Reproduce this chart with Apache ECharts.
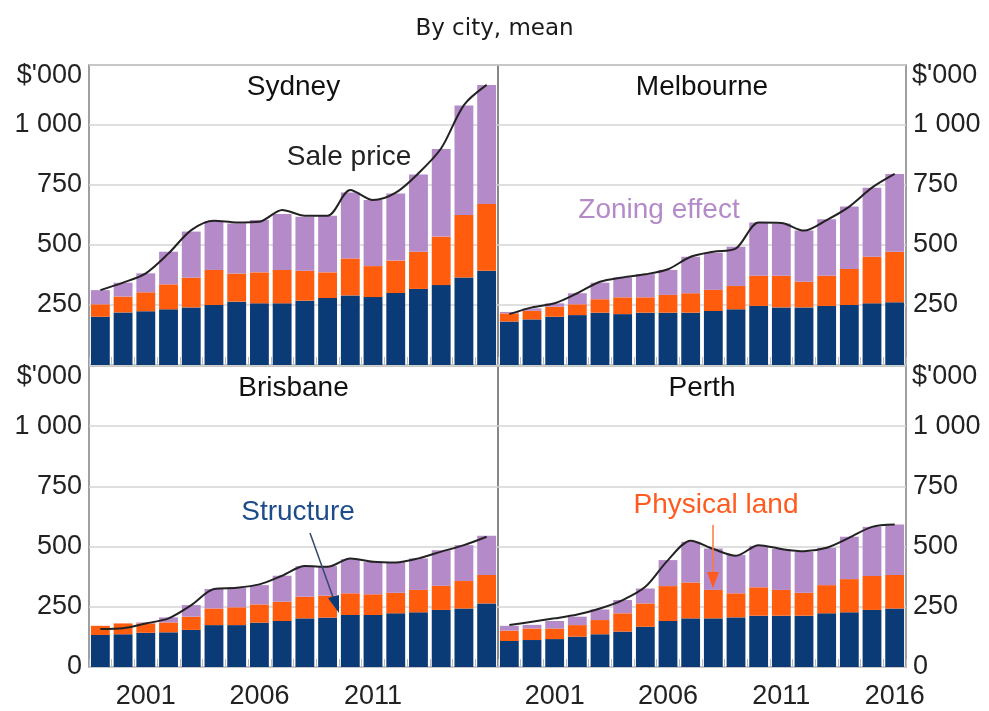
<!DOCTYPE html>
<html>
<head>
<meta charset="utf-8">
<script src="https://cdn.jsdelivr.net/npm/echarts@6/dist/echarts.min.js"></script>
<style>
  html,body{margin:0;padding:0;background:#fff;}
  #chart{width:989px;height:711px;}
</style>
</head>
<body>
<div id="chart"></div>
<script>
// years on the x axis
const years=['1999','2000','2001','2002','2003','2004','2005','2006','2007','2008','2009','2010','2011','2012','2013','2014','2015','2016'];
const yTicks=[0,250,500,750,1000,1250];

// $'000, stacked parts: structure, physical land, zoning effect; plus sale price line
const sydStructure=[201,219,224,232,240,250,264,257,257,268,279,290,283,300,317,333,365,393];
const sydLand=[52,66,79,104,124,146,117,129,139,125,107,154,129,135,155,202,260,278];
const sydZoning=[59,58,79,136,192,204,209,218,233,225,236,275,275,280,322,365,456,496];
const sydPrice=[312,343,382,465,562,601,594,597,646,622,622,729,687,718,799,903,1083,1167];

const melStructure=[181,190,201,208,218,212,218,218,218,225,232,246,240,240,246,250,257,261];
const melLand=[34,36,42,45,56,70,64,74,81,88,97,126,132,107,126,150,194,211];
const melZoning=[6,10,14,46,69,83,97,104,152,155,164,222,218,213,235,260,288,324];
const melPrice=[212,240,257,299,347,365,378,399,451,472,486,594,592,560,604,660,739,796];

const brisStructure=[133,136,142,144,154,174,174,184,191,202,205,216,216,223,227,237,243,264];
const brisLand=[38,45,39,41,55,69,74,76,80,90,91,90,86,85,93,100,114,118];
const brisZoning=[0,0,4,21,48,81,81,80,108,127,123,142,135,128,131,148,149,163];
const brisPrice=[158,161,181,202,257,324,329,343,379,419,416,451,437,434,451,479,506,541];

const perthStructure=[108,112,116,126,136,147,167,191,202,202,206,213,213,213,223,227,237,243];
const perthLand=[43,48,44,48,59,76,97,145,149,118,100,118,107,95,117,138,141,139];
const perthZoning=[20,15,31,35,44,55,62,108,169,172,159,172,170,170,155,176,204,210];
const perthPrice=[174,188,202,218,243,278,333,444,524,490,462,506,490,481,495,537,582,592];

const cities=[
  {name:'Sydney',s:sydStructure,l:sydLand,z:sydZoning,p:sydPrice},
  {name:'Melbourne',s:melStructure,l:melLand,z:melZoning,p:melPrice},
  {name:'Brisbane',s:brisStructure,l:brisLand,z:brisZoning,p:brisPrice},
  {name:'Perth',s:perthStructure,l:perthLand,z:perthZoning,p:perthPrice}
];

const C_STRUCT='#0b3b76', C_LAND='#ff5c0d', C_ZONE='#b48bc8';
const FONT='Liberation Sans, Arial, sans-serif';

const grids=[
  {left:89,top:65,width:409,height:300},
  {left:498,top:65,width:408,height:300},
  {left:89,top:366,width:409,height:301},
  {left:498,top:366,width:408,height:301}
];

let xAxis=[],yAxis=[],series=[],graphic=[];
cities.forEach((c,i)=>{
  const bottom=i>=2, right=i%2==1;
  xAxis.push({
    type:'category',gridIndex:i,data:years,
    axisLine:{show:false},
    axisTick:{show:true,inside:true,length:8,interval:0,lineStyle:{color:'#bbb'}},
    axisLabel:{
      show:bottom,interval:0,margin:16,color:'#222',fontSize:27,fontFamily:FONT,
      formatter:function(v){
        if((+v-2001)%5!=0) return '';
        if(!right&&v=='2016') return '';
        return v;
      }
    }
  });
  yAxis.push({
    type:'value',gridIndex:i,min:0,max:1250,interval:250,
    position:right?'right':'left',
    axisLine:{show:false},axisTick:{show:false},
    splitLine:{lineStyle:{color:'#d4d4d4',width:1.5}},
    axisLabel:{
      margin:7,color:'#222',fontSize:27,fontFamily:FONT,
      formatter:function(v){
        if(v==1250) return '';
        if(v==0) return bottom?'0':'';
        if(v==1000) return '1 000';
        return String(v);
      }
    }
  });
  const st='st'+i;
  series.push({type:'bar',xAxisIndex:i,yAxisIndex:i,stack:st,data:c.s,barCategoryGap:'17%',itemStyle:{color:C_STRUCT}});
  series.push({type:'bar',xAxisIndex:i,yAxisIndex:i,stack:st,data:c.l,itemStyle:{color:C_LAND}});
  series.push({type:'bar',xAxisIndex:i,yAxisIndex:i,stack:st,data:c.z,itemStyle:{color:C_ZONE}});
  series.push({type:'line',xAxisIndex:i,yAxisIndex:i,data:c.p,smooth:0.3,showSymbol:false,z:5,
    lineStyle:{color:'#222',width:2}});
  // panel title
  const g=grids[i];
  graphic.push({type:'text',x:g.left+g.width/2,y:g.top+22,z:10,
    style:{text:c.name,fill:'#111',font:'28px '+FONT,textAlign:'center',textVerticalAlign:'middle'}});
  // $'000 unit label at top of axis
  graphic.push({type:'text',x:right?g.left+g.width+6:g.left-7,y:g.top+11,z:10,
    style:{text:"$'000",fill:'#222',font:'27px '+FONT,textAlign:right?'left':'right',textVerticalAlign:'middle'}});
});

// annotations
graphic.push({type:'text',x:349,y:157,z:10,style:{text:'Sale price',fill:'#222',font:'28px '+FONT,textAlign:'center',textVerticalAlign:'middle'}});
graphic.push({type:'text',x:659,y:210,z:10,style:{text:'Zoning effect',fill:'#b48ac8',font:'28px '+FONT,textAlign:'center',textVerticalAlign:'middle'}});
graphic.push({type:'text',x:298,y:512,z:10,style:{text:'Structure',fill:'#1d4c8a',font:'28px '+FONT,textAlign:'center',textVerticalAlign:'middle'}});
graphic.push({type:'text',x:716,y:505,z:10,style:{text:'Physical land',fill:'#ff5a1f',font:'28px '+FONT,textAlign:'center',textVerticalAlign:'middle'}});
// arrows
graphic.push({type:'line',z:10,shape:{x1:310,y1:533,x2:334,y2:600},style:{stroke:'#33496b',lineWidth:1.5}});
graphic.push({type:'polygon',z:10,shape:{points:[[339,613],[328,598],[339,595]]},style:{fill:'#0b3b76'}});
graphic.push({type:'line',z:10,shape:{x1:713,y1:525,x2:713,y2:575},style:{stroke:'#ff7a3a',lineWidth:1.5}});
graphic.push({type:'polygon',z:10,shape:{points:[[713,588],[707,572],[719,572]]},style:{fill:'#ff5a1f'}});

const chart=echarts.init(document.getElementById('chart'),null,{renderer:'canvas'});
chart.setOption({
  animation:false,
  backgroundColor:'#fff',
  title:{text:'By city, mean',left:'center',top:13,
    textStyle:{fontFamily:'DejaVu Sans',fontWeight:'normal',fontSize:23,color:'#1a1a1a'}},
  grid:grids.map(g=>Object.assign({show:true,borderColor:'#808080',borderWidth:1.5,containLabel:false},g)),
  xAxis:xAxis,
  yAxis:yAxis,
  series:series,
  graphic:graphic
});
</script>
</body>
</html>
